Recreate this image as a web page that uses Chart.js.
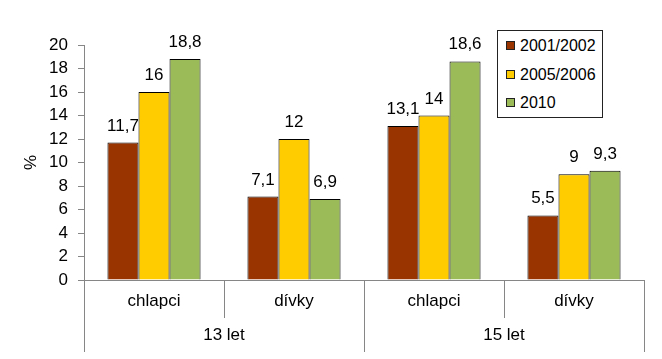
<!DOCTYPE html>
<html>
<head>
<meta charset="utf-8">
<script src="https://cdn.jsdelivr.net/npm/chart.js@4/dist/chart.umd.min.js"></script>
<style>
  html, body { margin: 0; padding: 0; background: #fff; }
  #wrap { position: relative; width: 662px; height: 359px; }
  #legend { position: absolute; left: 497px; top: 30px; width: 104px; height: 86px; border: 1px solid #222; background: #fff;
            font-family: "Liberation Sans", Arial, sans-serif; font-size: 16px; color: #000; box-sizing: content-box; }
  .item { position: absolute; left: 8px; height: 20px; line-height: 20px; white-space: nowrap; }
  .sw { display: inline-block; width: 7px; height: 7px; border: 1px solid #222; vertical-align: middle; margin-right: 5px; position: relative; top: -1px; }
</style>
</head>
<body>
<div id="wrap">
  <canvas id="c" width="662" height="359"></canvas>
  <div id="legend"></div>
</div>
<script>
const categories = ['chlapci', 'dívky', 'chlapci', 'dívky'];
const groups = ['13 let', '15 let'];
const seriesNames = ['2001/2002', '2005/2006', '2010'];
const values2001 = [11.7, 7.1, 13.1, 5.5];
const values2005 = [16, 12, 14, 9];
const values2010 = [18.8, 6.9, 18.6, 9.3];
const yTicks = [0, 2, 4, 6, 8, 10, 12, 14, 16, 18, 20];

const colors = ['#993300', '#FFCC00', '#9BBB59'];
const FONT = '"Liberation Sans", Arial, sans-serif';
const AXIS = '#868686';

const dataLabels = {
  id: 'dataLabels',
  afterDatasetsDraw(chart) {
    const ctx = chart.ctx;
    ctx.save();
    ctx.font = '17px ' + FONT;
    ctx.fillStyle = '#000';
    ctx.textAlign = 'center';
    ctx.textBaseline = 'alphabetic';
    chart.data.datasets.forEach((ds, di) => {
      const meta = chart.getDatasetMeta(di);
      meta.data.forEach((el, i) => {
        ctx.fillText(String(ds.data[i]).replace('.', ','), el.x, el.y - 12);
      });
    });
    ctx.restore();
  }
};

const dividers = {
  id: 'dividers',
  afterDraw(chart) {
    const x = chart.scales.x;
    const ctx = chart.ctx;
    const bottom = chart.chartArea.bottom;
    const n = categories.length;
    const bounds = [];
    for (let k = 0; k <= n; k++) {
      let px;
      if (k === 0) px = x.left;
      else if (k === n) px = x.right;
      else px = (x.getPixelForValue(k - 1) + x.getPixelForValue(k)) / 2;
      bounds.push(px);
    }
    ctx.save();
    ctx.strokeStyle = AXIS;
    ctx.lineWidth = 1;
    bounds.forEach((px, k) => {
      const len = (k % 2 === 0) ? 72 : 38;
      const xx = Math.round(px) + 0.5;
      ctx.beginPath();
      ctx.moveTo(xx, bottom);
      ctx.lineTo(xx, bottom + len);
      ctx.stroke();
    });
    ctx.restore();
  }
};

const chart = new Chart(document.getElementById('c'), {
  type: 'bar',
  data: {
    labels: categories,
    datasets: [
      { label: seriesNames[0], data: values2001, backgroundColor: colors[0] },
      { label: seriesNames[1], data: values2005, backgroundColor: colors[1] },
      { label: seriesNames[2], data: values2010, backgroundColor: colors[2] }
    ].map(d => Object.assign(d, { borderColor: '#000', borderWidth: 1, categoryPercentage: 0.665, barPercentage: 1 }))
  },
  options: {
    responsive: false,
    animation: false,
    layout: { padding: { left: 0, right: 18, top: 45, bottom: 7 } },
    plugins: { legend: { display: false }, tooltip: { enabled: false } },
    scales: {
      x: {
        type: 'category',
        position: 'bottom',
        weight: 0,
        grid: { display: false, drawTicks: false },
        border: { display: true, color: AXIS, width: 1 },
        ticks: { color: '#000', font: { family: FONT, size: 17 }, padding: 11, maxRotation: 0 },
        afterFit(s) { s.height = 36; }
      },
      x2: {
        type: 'category',
        position: 'bottom',
        weight: 1,
        labels: groups,
        offset: true,
        grid: { display: false, drawTicks: false },
        border: { display: false },
        ticks: { color: '#000', font: { family: FONT, size: 17 }, padding: 9, maxRotation: 0 },
        afterFit(s) { s.height = 36; }
      },
      y: {
        min: 0,
        max: 20,
        afterBuildTicks(s) { s.ticks = yTicks.map(v => ({ value: v })); },
        grid: { drawOnChartArea: false, drawTicks: true, tickLength: 6, color: AXIS },
        border: { display: true, color: AXIS, width: 1 },
        ticks: { color: '#000', font: { family: FONT, size: 17 }, padding: 10 },
        title: { display: true, text: '%', color: '#000', font: { family: FONT, size: 17 }, padding: { top: 21, bottom: 0 } },
        afterFit(s) { s.width = 84; }
      }
    }
  },
  plugins: [dataLabels, dividers]
});

const legend = document.getElementById('legend');
const rowTops = [5, 34, 62];
chart.data.datasets.forEach((ds, i) => {
  const it = document.createElement('div');
  it.className = 'item';
  it.style.top = rowTops[i] + 'px';
  const sw = document.createElement('span');
  sw.className = 'sw';
  sw.style.background = ds.backgroundColor;
  it.appendChild(sw);
  it.appendChild(document.createTextNode(ds.label));
  legend.appendChild(it);
});
</script>
</body>
</html>
